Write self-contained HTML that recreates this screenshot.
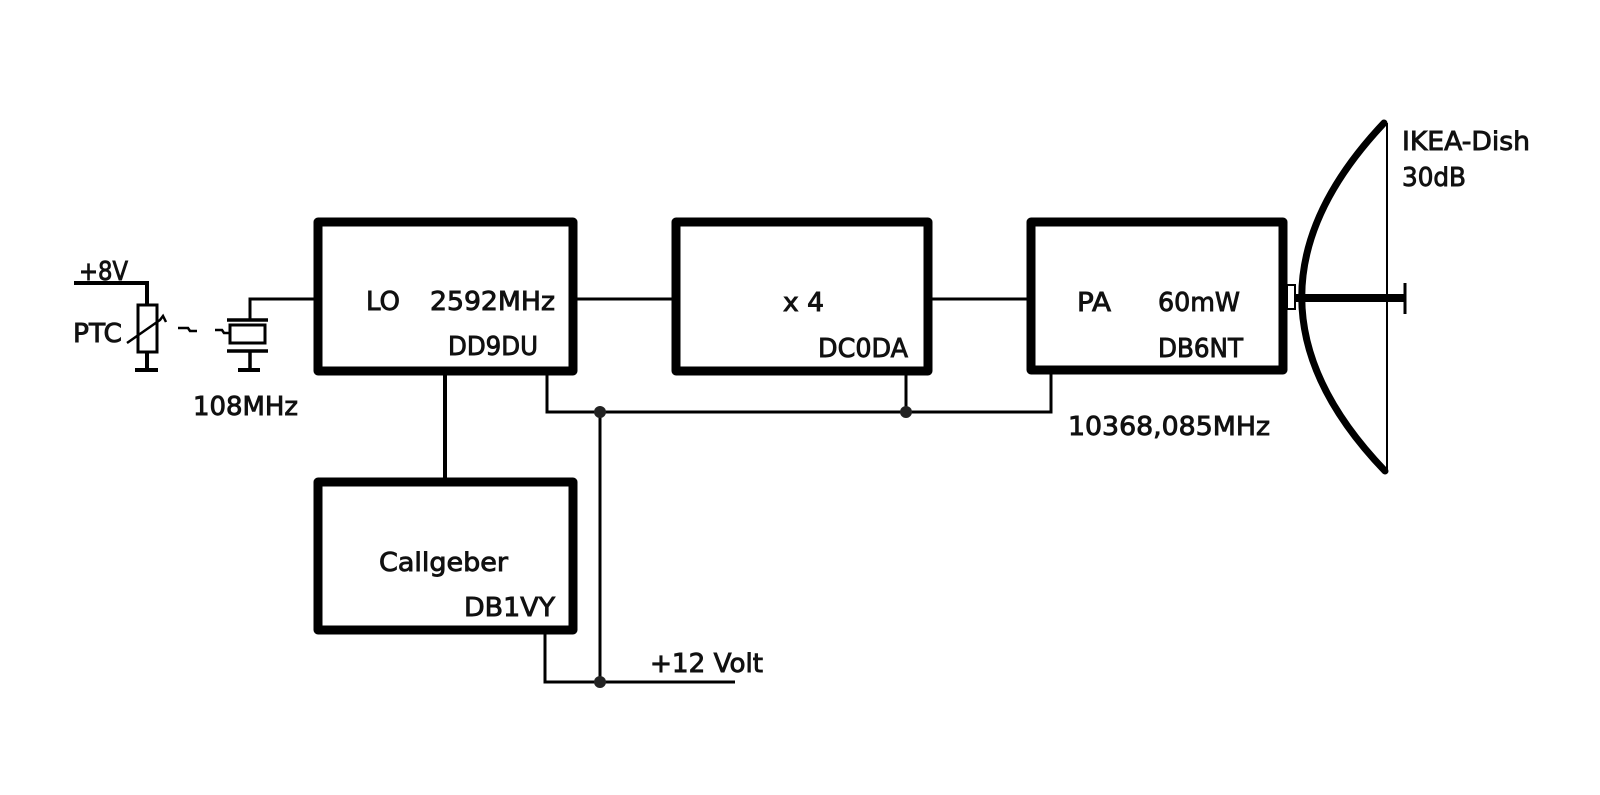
<!DOCTYPE html>
<html>
<head>
<meta charset="utf-8">
<style>
  html,body{margin:0;padding:0;background:#fff;}
  svg{display:block;}
  text{font-family:"DejaVu Sans","Liberation Sans",sans-serif;font-size:26px;fill:#111;stroke:#111;stroke-width:0.9px;}
</style>
</head>
<body>
<svg width="1600" height="795" viewBox="0 0 1600 795" xmlns="http://www.w3.org/2000/svg">
  <rect x="0" y="0" width="1600" height="795" fill="#fff"/>

  <!-- Boxes -->
  <g fill="none" stroke="#000" stroke-width="9" stroke-linejoin="round">
    <rect x="318" y="222" width="255" height="149"/>
    <rect x="676" y="222" width="252" height="149"/>
    <rect x="1031" y="222" width="252" height="148"/>
    <rect x="318" y="482" width="255" height="148"/>
  </g>

  <!-- Connectors -->
  <g fill="none" stroke="#000" stroke-width="3">
    <polyline points="250,320 250,299 318,299"/>
    <line x1="573" y1="299" x2="676" y2="299"/>
    <line x1="928" y1="299" x2="1031" y2="299"/>
    <polyline points="547,371 547,412 1051,412 1051,370"/>
    <line x1="906" y1="371" x2="906" y2="412"/>
    <line x1="600" y1="412" x2="600" y2="682"/>
    <polyline points="545,630 545,682 735,682"/>
  </g>
  <line x1="445" y1="371" x2="445" y2="482" stroke="#000" stroke-width="4"/>
  <circle cx="600" cy="412" r="6" fill="#222"/>
  <circle cx="906" cy="412" r="6" fill="#222"/>
  <circle cx="600" cy="682" r="6" fill="#222"/>

  <!-- +8V / PTC -->
  <g fill="none" stroke="#000">
    <polyline points="74,283 147,283 147,304" stroke-width="4"/>
    <rect x="138" y="305" width="19" height="47" stroke-width="3"/>
    <line x1="147" y1="352" x2="147" y2="370" stroke-width="4"/>
    <line x1="135" y1="370" x2="158" y2="370" stroke-width="4"/>
    <polyline points="127,343 160,320 163,316 166,322" stroke-width="2.5"/>
    <!-- tilde marks -->
    <polyline points="178,328 188,328 190,331 197,331" stroke-width="2.5"/>
    <polyline points="215,330 222,330 224,333 229,333" stroke-width="2.5"/>
    <!-- crystal -->
    <line x1="227" y1="320" x2="268" y2="320" stroke-width="3.5"/>
    <rect x="230" y="325" width="35" height="18" stroke-width="3"/>
    <line x1="227" y1="351" x2="268" y2="351" stroke-width="3.5"/>
    <line x1="250" y1="351" x2="250" y2="370" stroke-width="3.5"/>
    <line x1="238" y1="370" x2="260" y2="370" stroke-width="4"/>
  </g>

  <!-- Dish -->
  <path d="M1384,123 Q1219,298 1385,471" fill="none" stroke="#000" stroke-width="7" stroke-linecap="round"/>
  <line x1="1387" y1="123" x2="1387" y2="471" stroke="#000" stroke-width="2"/>
  <line x1="1293" y1="298" x2="1404" y2="298" stroke="#000" stroke-width="8"/>
  <line x1="1405" y1="283" x2="1405" y2="314" stroke="#000" stroke-width="3"/>
  <rect x="1287" y="285" width="8" height="24" fill="#fff" stroke="#000" stroke-width="2"/>

  <!-- Labels -->
  <text x="79" y="280" textLength="49" lengthAdjust="spacingAndGlyphs">+8V</text>
  <text x="73" y="342" textLength="49" lengthAdjust="spacingAndGlyphs">PTC</text>
  <text x="193" y="415" textLength="105" lengthAdjust="spacingAndGlyphs">108MHz</text>

  <text x="366" y="310" textLength="34" lengthAdjust="spacingAndGlyphs">LO</text>
  <text x="430" y="310" textLength="125" lengthAdjust="spacingAndGlyphs">2592MHz</text>
  <text x="448" y="355" textLength="90" lengthAdjust="spacingAndGlyphs">DD9DU</text>

  <text x="783" y="311" textLength="41" lengthAdjust="spacingAndGlyphs">x 4</text>
  <text x="818" y="357" textLength="90" lengthAdjust="spacingAndGlyphs">DC0DA</text>

  <text x="1077" y="311" textLength="34" lengthAdjust="spacingAndGlyphs">PA</text>
  <text x="1158" y="311" textLength="82" lengthAdjust="spacingAndGlyphs">60mW</text>
  <text x="1158" y="357" textLength="85" lengthAdjust="spacingAndGlyphs">DB6NT</text>
  <text x="1068" y="435" textLength="202" lengthAdjust="spacingAndGlyphs">10368,085MHz</text>

  <text x="1402" y="150" textLength="128" lengthAdjust="spacingAndGlyphs">IKEA-Dish</text>
  <text x="1402" y="186" textLength="64" lengthAdjust="spacingAndGlyphs">30dB</text>

  <text x="379" y="571" textLength="129" lengthAdjust="spacingAndGlyphs">Callgeber</text>
  <text x="464" y="616" textLength="91" lengthAdjust="spacingAndGlyphs">DB1VY</text>
  <text x="650" y="672" textLength="113" lengthAdjust="spacingAndGlyphs">+12 Volt</text>
</svg>
</body>
</html>
